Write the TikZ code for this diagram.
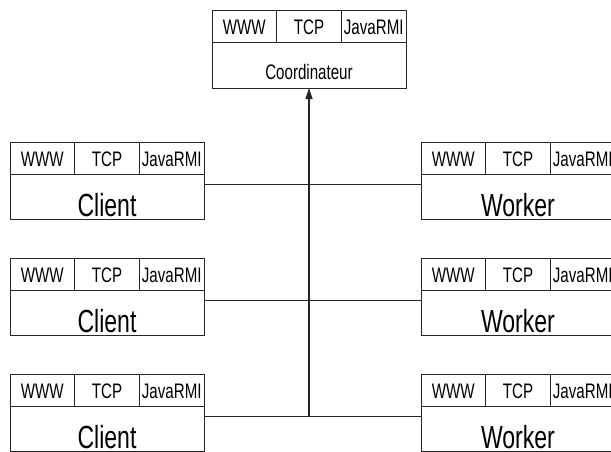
\documentclass[tikz,border=0pt]{standalone}
\usepackage{fontspec}
\newfontfamily\boxfont{Liberation Sans}[FakeStretch=0.72]
\usetikzlibrary{positioning,arrows.meta}

\begin{document}
\begin{tikzpicture}[x=1pt, y=-1pt,
        cell/.style={draw=black!85, line width=0.8pt, outer sep=0pt, inner sep=0pt,
        minimum width=64.7pt, minimum height=32pt, text height=16pt, text depth=0pt,
        font=\boxfont\fontsize{21}{23}\selectfont},
        body/.style={draw=black!85, line width=0.8pt, outer sep=0pt, inner sep=0pt,
        minimum width=194pt, minimum height=45pt, text height=39pt, text depth=0pt,
        font=\boxfont\fontsize{32}{34}\selectfont},
        link/.style={draw=black!85, line width=0.8pt}]
    \useasboundingbox (0,0) rectangle (611,451);
    \clip (0,0) rectangle (611,451);
        \node[cell, anchor=north west] (coord-www) at (212,10) {WWW};
        \node[cell, right=0pt of coord-www] (coord-tcp) {TCP};
        \node[cell, right=0pt of coord-tcp] (coord-rmi) {JavaRMI};
        \node[body, anchor=north west, minimum height=46pt, text height=28pt,
        font=\boxfont\fontsize{21}{23}\selectfont] (coord) at (coord-www.south west)
        {Coordinateur};
        \foreach \n/\y in {1/142,2/258,3/374}{
        \foreach \side/\x/\lbl in {cli/10/Client,wrk/421/Worker}{
        \node[cell, anchor=north west] (\side\n-www) at (\x,\y) {WWW};
        \node[cell, right=0pt of \side\n-www] (\side\n-tcp) {TCP};
        \node[cell, right=0pt of \side\n-tcp] (\side\n-rmi) {JavaRMI};
        \node[body, anchor=north west] (\side\n) at (\side\n-www.south west) {\lbl};
        }
        \draw[link] ([yshift=-10pt]cli\n.north east) -- ([yshift=-10pt]wrk\n.north west);
        }
        \coordinate (trunk-end) at ([yshift=-10pt]cli3.north east);
        \draw[link, line width=1.2pt, -{Triangle[length=11pt, width=7pt]}]
        (coord.south |- trunk-end) -- (coord.south);
    \end{tikzpicture}
\end{document}
